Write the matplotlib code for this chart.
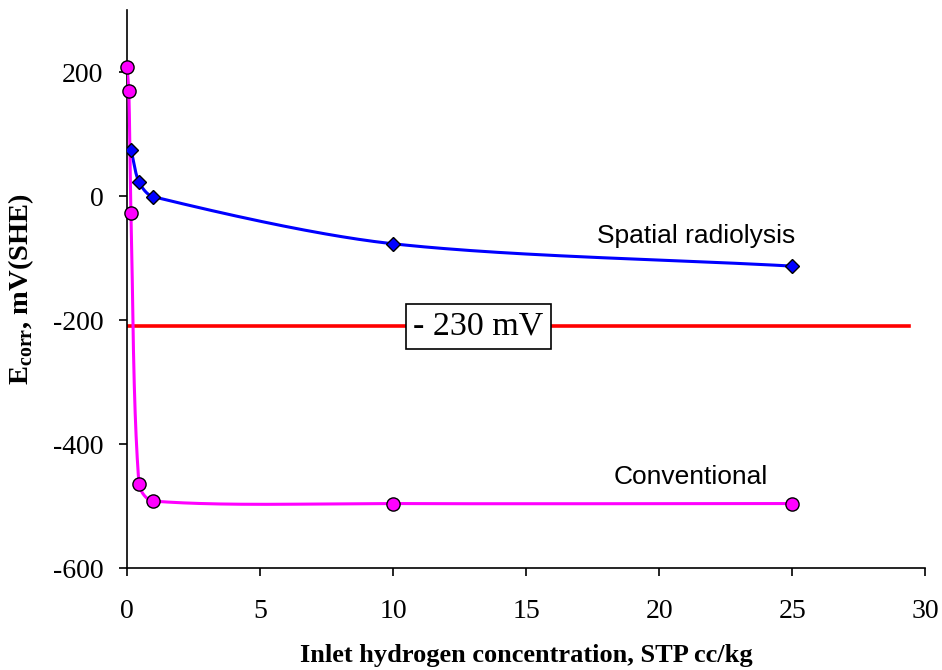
import numpy as np
import matplotlib
matplotlib.use('Agg')
import matplotlib.pyplot as plt

matplotlib.rcParams.update({'font.family': 'Liberation Serif',
                            'axes.unicode_minus': False,
                            'mathtext.fontset': 'custom',
                            'mathtext.rm': 'Liberation Serif:bold',
                            'mathtext.bf': 'Liberation Serif:bold'})

# data
h2_conv = [0.0, 0.07, 0.15, 0.45, 0.98, 10.0, 25.0]
ecorr_conv = [208, 169, -27, -464, -492, -496, -496]

h2_spat = [0.15, 0.45, 0.98, 10.0, 25.0]
ecorr_spat = [75, 23, -1, -77, -113]

crit_x = [0, 29.4]
crit_y = [-210, -210]

XLIM = (0, 30)
YLIM = (-600, 300)
W, H = 9.42, 6.7


#--------------------------------------------------
# smoothed line, bezier through the points (screen space)
#--------------------------------------------------
def smooth(x, y, n=60, k=0.3):
    x = np.asarray(x, float)
    y = np.asarray(y, float)
    u = (x - XLIM[0]) / (XLIM[1] - XLIM[0]) * W
    v = (y - YLIM[0]) / (YLIM[1] - YLIM[0]) * H
    P = np.column_stack([u, v])
    P = np.vstack([P[0], P, P[-1]])
    out = []
    t = np.linspace(0, 1, n)[:, None]
    for i in range(1, len(P) - 2):
        p0, p1, p2, p3 = P[i - 1], P[i], P[i + 1], P[i + 2]
        L = np.linalg.norm(p2 - p1)
        d1 = p2 - p0
        d2 = p3 - p1
        c1 = p1 + d1 / np.linalg.norm(d1) * L * k
        c2 = p2 - d2 / np.linalg.norm(d2) * L * k
        seg = (1 - t)**3 * p1 + 3 * (1 - t)**2 * t * c1 + 3 * (1 - t) * t**2 * c2 + t**3 * p2
        out.append(seg)
    out = np.vstack(out)
    xs = out[:, 0] / W * (XLIM[1] - XLIM[0]) + XLIM[0]
    ys = out[:, 1] / H * (YLIM[1] - YLIM[0]) + YLIM[0]
    return xs, ys


fig = plt.figure(figsize=(W, H), dpi=100)
ax = fig.add_axes([0.1348, 0.1522, 0.8474, 0.8328])

ax.plot(crit_x, crit_y, color='#FF0000', lw=2.6, zorder=2)

xs, ys = smooth(h2_spat, ecorr_spat)
ax.plot(xs, ys, color='#0000FF', lw=2.2, zorder=3)
ax.plot(h2_spat, ecorr_spat, 'D', ms=7.5, mfc='#0000FF', mec='black', mew=1.0, zorder=5)

xs, ys = smooth(h2_conv, ecorr_conv)
ax.plot(xs, ys, color='#FF00FF', lw=2.2, zorder=4)
ax.plot(h2_conv, ecorr_conv, 'o', ms=9.5, mfc='#FF00FF', mec='black', mew=1.0, zorder=6,
        clip_on=False)

ax.text(13.2, -210, '- 230 mV', fontsize=24.5, ha='center', va='center', zorder=7,
        bbox=dict(boxstyle='square,pad=0.22', fc='white', ec='black', lw=1.2))

ax.text(21.4, -65, 'Spatial radiolysis', family='Liberation Sans', fontsize=19,
        ha='center', va='center')
ax.text(21.2, -453, 'Conventional', family='Liberation Sans', fontsize=19,
        ha='center', va='center')

ax.set_xlim(*XLIM)
ax.set_ylim(*YLIM)
ax.set_xticks(np.arange(0, 31, 5))
ax.set_yticks(np.arange(-600, 201, 200))
ax.tick_params(direction='out', length=6, width=1.2, labelsize=20)
ax.tick_params(axis='x', pad=16)
ax.tick_params(axis='y', pad=11)
for s in ['top', 'right']:
    ax.spines[s].set_visible(False)
for s in ['left', 'bottom']:
    ax.spines[s].set_linewidth(1.2)

ax.set_xlabel('Inlet hydrogen concentration, STP cc/kg', fontsize=19, fontweight='bold',
              labelpad=15)
ax.set_ylabel(r'E$_{\mathbf{corr}}$, mV(SHE)', fontsize=20.5, fontweight='bold', labelpad=12)

fig.savefig('out.png', dpi=100)
